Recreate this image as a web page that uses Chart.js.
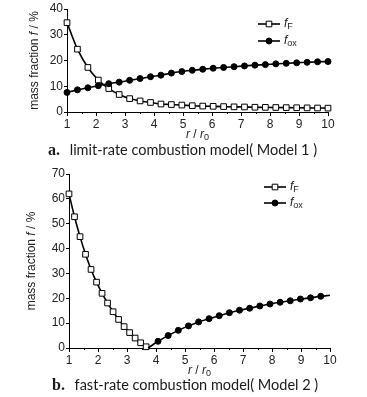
<!DOCTYPE html>
<html>
<head>
<meta charset="utf-8">
<script src="https://cdn.jsdelivr.net/npm/chart.js@4.4.1/dist/chart.umd.min.js"></script>
<style>
  body { margin: 0; background: #fff; width: 367px; height: 397px; position: relative; overflow: hidden; }
  canvas { position: absolute; left: 0; }
  #chartA { top: 0; }
  #chartB { top: 165px; }
  .cap { position: absolute; font-family: Lato, 'Open Sans', sans-serif; font-size: 14.5px; color: #1a1a1a; white-space: nowrap; }
  .cap b { font-family: 'Liberation Serif', serif; font-size: 16px; margin-right: 6px; }
</style>
</head>
<body>
<canvas id="chartA" width="367" height="145"></canvas>
<div class="cap" style="left:48px; top:141px"><b>a.</b> limit-rate combustion model( Model 1 )</div>
<canvas id="chartB" width="367" height="216"></canvas>
<div class="cap" style="left:52px; top:376px"><b>b.</b> fast-rate combustion model( Model 2 )</div>

<script>
const TICK_FONT = "'Liberation Sans Narrow', 'Arial Narrow', 'Liberation Sans', sans-serif";

const xTicks = [1, 2, 3, 4, 5, 6, 7, 8, 9, 10];

// Model 1 (limit-rate)
const xA = [1, 1.36, 1.72, 2.08, 2.44, 2.8, 3.16, 3.52, 3.88, 4.24, 4.6, 4.96, 5.32,
  5.68, 6.04, 6.4, 6.76, 7.12, 7.48, 7.84, 8.2, 8.56, 8.92, 9.28, 9.64, 10];
const fuelA = [34.7, 24.4, 17.3, 12.4, 9.1, 6.8, 5.2, 4.3, 3.7, 3.1, 2.9, 2.7, 2.45,
  2.3, 2.2, 2.1, 2.0, 1.95, 1.85, 1.8, 1.75, 1.7, 1.65, 1.6, 1.55, 1.5];
const oxA = [7.6, 8.6, 9.4, 10.2, 11.0, 11.6, 12.3, 13.0, 13.7, 14.3, 15.1, 15.7, 16.2,
  16.6, 17.0, 17.3, 17.6, 17.9, 18.2, 18.4, 18.7, 18.9, 19.1, 19.3, 19.5, 19.6];
const yTicksA = [0, 10, 20, 30, 40];

// Model 2 (fast-rate)
const xFuelB = [1, 1.19, 1.38, 1.57, 1.76, 1.95, 2.14, 2.33, 2.52, 2.71, 2.9, 3.09, 3.28, 3.47, 3.66, 3.73];
const fuelB = [62, 52.8, 44.8, 37.7, 31.6, 26.5, 22, 18.1, 14.6, 11.5, 8.6, 6.2, 4.0, 2.1, 0.5, 0];
const xOxB = [3.73, 4.07, 4.42, 4.77, 5.12, 5.47, 5.83, 6.18, 6.53, 6.88, 7.23, 7.58, 7.93,
  8.28, 8.63, 8.98, 9.33, 9.68, 10];
const oxB = [0, 2.7, 5.0, 7.1, 8.9, 10.5, 11.8, 13.0, 14.2, 15.2, 16.0, 16.9, 17.7,
  18.4, 19.0, 19.7, 20.2, 20.8, 21.2];
const yTicksB = [0, 10, 20, 30, 40, 50, 60, 70];

// one curve; indices in "bare" get no marker (joining points)
function series(xs, ys, square, bare = []) {
  return {
    data: xs.map((x, i) => ({ x: x, y: ys[i] })),
    borderColor: '#000',
    borderWidth: 1.6,
    pointStyle: square ? 'rect' : 'circle',
    pointRadius: xs.map((_, i) => bare.includes(i) ? 0 : (square ? 4 : 3)),
    pointBackgroundColor: square ? '#fff' : '#000',
    pointBorderColor: '#000',
    pointBorderWidth: 1,
    cubicInterpolationMode: 'monotone',
    clip: false
  };
}

// minor x ticks at the half steps
const minorTicks = {
  id: 'minorTicks',
  afterDraw(chart) {
    const ctx = chart.ctx, sx = chart.scales.x;
    ctx.save();
    ctx.strokeStyle = '#000';
    ctx.lineWidth = 1;
    ctx.beginPath();
    for (let v = 1.5; v < 10; v++) {
      const px = Math.round(sx.getPixelForValue(v)) + 0.5;
      ctx.moveTo(px, sx.top);
      ctx.lineTo(px, sx.top + 2);
    }
    ctx.stroke();
    ctx.restore();
  }
};

// axis titles and legend with italic f and subscripts
function runs(ctx, parts, x, y) {
  parts.forEach(p => {
    ctx.font = p[1];
    ctx.fillText(p[0], x, y + (p[2] || 0));
    x += ctx.measureText(p[0]).width;
  });
  return x;
}
function runsWidth(ctx, parts) {
  return parts.reduce((w, p) => { ctx.font = p[1]; return w + ctx.measureText(p[0]).width; }, 0);
}

const labels = {
  id: 'labels',
  afterDraw(chart, args, opts) {
    const ctx = chart.ctx, a = chart.chartArea;
    const n = '12px ' + TICK_FONT, it = 'italic 12px ' + TICK_FONT, sub = '9px ' + TICK_FONT;
    ctx.save();
    ctx.fillStyle = '#222';
    ctx.textBaseline = 'middle';

    // y title
    const yt = [['mass fraction ', n], ['f', it], [' / %', n]];
    ctx.save();
    ctx.translate(opts.yTitleX, (a.top + a.bottom) / 2);
    ctx.rotate(-Math.PI / 2);
    runs(ctx, yt, -runsWidth(ctx, yt) / 2, 0);
    ctx.restore();

    // x title
    const xt = [['r', it], [' / ', n], ['r', it], ['0', sub, 3]];
    runs(ctx, xt, (a.left + a.right) / 2 - runsWidth(ctx, xt) / 2, a.bottom + 23);

    // legend
    const lg = opts.legend;
    [['F', true], ['ox', false]].forEach((row, i) => {
      const y = lg.y + i * lg.gap;
      const cx = lg.x + 11;
      ctx.strokeStyle = '#000';
      ctx.lineWidth = 1.6;
      ctx.beginPath();
      ctx.moveTo(lg.x, y);
      ctx.lineTo(lg.x + 22, y);
      ctx.stroke();
      ctx.lineWidth = 1;
      ctx.beginPath();
      if (row[1]) {
        ctx.rect(cx - 2.8, y - 2.8, 5.6, 5.6);
        ctx.fillStyle = '#fff';
      } else {
        ctx.arc(cx, y, 3, 0, Math.PI * 2);
        ctx.fillStyle = '#000';
      }
      ctx.fill();
      ctx.stroke();
      ctx.fillStyle = '#222';
      runs(ctx, [['f', it], [row[0], sub, 3]], lg.x + 26, y);
    });
    ctx.restore();
  }
};

function makeChart(id, datasets, yMax, yTicks, yWidth, padRight, yTitleX, legend) {
  return new Chart(document.getElementById(id), {
    type: 'line',
    data: { datasets: datasets },
    plugins: [minorTicks, labels],
    options: {
      responsive: false,
      animation: false,
      events: [],
      layout: { padding: { left: 0, right: padRight, top: 9, bottom: 0 } },
      plugins: {
        legend: { display: false },
        tooltip: { enabled: false },
        labels: { yTitleX: yTitleX, legend: legend }
      },
      scales: {
        x: {
          type: 'linear',
          min: 1,
          max: 10,
          afterBuildTicks: s => { s.ticks = xTicks.map(v => ({ value: v })); },
          afterFit: s => { s.height = 33; },
          grid: { drawOnChartArea: false, drawTicks: true, tickLength: 4, color: '#000' },
          border: { color: '#000', width: 1 },
          ticks: { color: '#222', padding: 1, maxRotation: 0, font: { family: TICK_FONT, size: 12 } }
        },
        y: {
          min: 0,
          max: yMax,
          afterBuildTicks: s => { s.ticks = yTicks.map(v => ({ value: v })); },
          afterFit: s => { s.width = yWidth; },
          grid: { drawOnChartArea: false, drawTicks: true, tickLength: 3, color: '#000' },
          border: { color: '#000', width: 1 },
          ticks: { color: '#222', padding: 1, font: { family: TICK_FONT, size: 12 } }
        }
      }
    }
  });
}

makeChart('chartA', [series(xA, oxA, false), series(xA, fuelA, true)],
  40, yTicksA, 67, 39, 35, { x: 258, y: 24, gap: 17 });

makeChart('chartB', [series(xOxB, oxB, false, [0, xOxB.length - 1]),
  series(xFuelB, fuelB, true, [xFuelB.length - 1])],
  70, yTicksB, 69, 37, 32, { x: 264, y: 22, gap: 16 });
</script>
</body>
</html>
